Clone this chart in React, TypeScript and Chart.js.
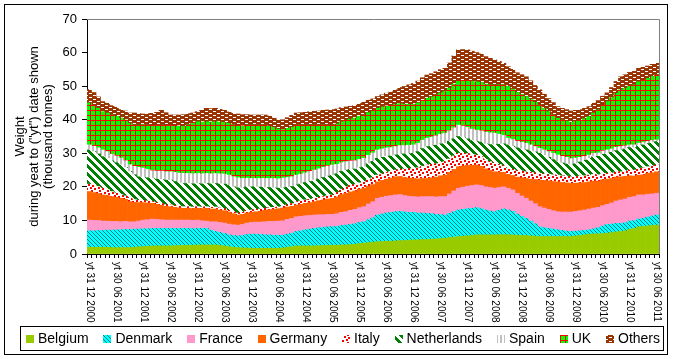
import React, { useEffect, useRef } from 'react';
import { Chart, registerables } from 'chart.js';

Chart.register(...registerables);

// Tick labels (one every 6 months, first bar = Dec 2000, last = Jun 2011)
const tickLabels = [
  'yt 31 12 2000', 'yt 30 06 2001', 'yt 31 12 2001', 'yt 30 06 2002', 'yt 31 12 2002',
  'yt 30 06 2003', 'yt 31 12 2003', 'yt 30 06 2004', 'yt 31 12 2004', 'yt 30 06 2005',
  'yt 31 12 2005', 'yt 30 06 2006', 'yt 31 12 2006', 'yt 30 06 2007', 'yt 31 12 2007',
  'yt 30 06 2008', 'yt 31 12 2008', 'yt 30 06 2009', 'yt 31 12 2009', 'yt 30 06 2010',
  'yt 31 12 2010', 'yt 30 06 2011',
];
const MONTHS_PER_TICK = 6;

const seriesNames = ['Belgium', 'Denmark', 'France', 'Germany', 'Italy', 'Netherlands', 'Spain', 'UK', 'Others'];

const belgium = [
  2.0, 2.0, 2.0, 2.0, 2.0, 1.9, 1.9, 1.9, 1.9, 1.9, 2.0, 2.1,
  2.2, 2.3, 2.4, 2.4, 2.4, 2.4, 2.4, 2.5, 2.5, 2.6, 2.6, 2.6,
  2.7, 2.7, 2.7, 2.7, 2.7, 2.6, 2.4, 2.2, 2.0, 1.9, 1.8, 1.8,
  1.7, 1.7, 1.7, 1.7, 1.7, 1.7, 1.7, 1.8, 2.0, 2.2, 2.4, 2.4,
  2.4, 2.4, 2.4, 2.5, 2.5, 2.6, 2.6, 2.6, 2.7, 2.7, 2.8, 2.9,
  3.1, 3.2, 3.4, 3.5, 3.7, 3.7, 3.8, 3.8, 3.9, 4.0, 4.0, 4.1,
  4.2, 4.2, 4.3, 4.3, 4.4, 4.5, 4.6, 4.7, 4.9, 5.0, 5.2, 5.3,
  5.4, 5.5, 5.7, 5.7, 5.7, 5.7, 5.7, 5.7, 5.8, 5.7, 5.7, 5.6,
  5.5, 5.5, 5.4, 5.3, 5.2, 5.2, 5.2, 5.2, 5.2, 5.2, 5.2, 5.2,
  5.4, 5.5, 5.7, 5.9, 6.0, 6.0, 6.1, 6.2, 6.4, 6.6, 6.7, 6.9,
  7.4, 7.6, 8.1, 8.2, 8.4, 8.5, 8.6,
];
const denmark = [
  4.9, 4.9, 5.0, 5.0, 5.1, 5.2, 5.3, 5.3, 5.4, 5.4, 5.4, 5.3,
  5.3, 5.2, 5.2, 5.2, 5.2, 5.2, 5.2, 5.1, 5.1, 5.0, 5.0, 4.9,
  4.9, 4.9, 4.9, 4.4, 4.0, 3.8, 3.7, 3.5, 3.5, 3.5, 3.7, 4.0,
  4.2, 4.2, 4.1, 4.0, 4.0, 3.9, 3.9, 3.8, 3.9, 4.0, 4.3, 4.5,
  4.8, 5.0, 5.2, 5.3, 5.4, 5.5, 5.5, 5.6, 5.8, 5.9, 6.0, 6.1,
  6.3, 6.4, 6.8, 7.3, 7.9, 8.2, 8.4, 8.6, 8.7, 8.7, 8.5, 8.3,
  8.2, 8.0, 7.9, 7.8, 7.6, 7.3, 7.1, 6.9, 7.2, 7.6, 7.9, 8.0,
  8.1, 8.1, 8.1, 7.8, 7.4, 7.1, 6.9, 7.3, 7.6, 7.4, 7.0, 6.3,
  5.7, 5.1, 4.4, 3.7, 2.9, 2.6, 2.4, 2.2, 2.0, 1.8, 1.6, 1.5,
  1.4, 1.4, 1.3, 1.3, 1.5, 1.8, 2.2, 2.6, 2.5, 2.5, 2.4, 2.4,
  2.4, 2.3, 2.3, 2.4, 2.6, 2.8, 3.0,
];
const france = [
  3.2, 3.1, 3.0, 2.8, 2.7, 2.6, 2.5, 2.4, 2.4, 2.3, 2.2, 2.4,
  2.6, 2.7, 2.8, 2.7, 2.6, 2.5, 2.5, 2.5, 2.5, 2.5, 2.5, 2.5,
  2.5, 2.3, 2.2, 2.5, 2.9, 3.0, 3.1, 3.2, 3.2, 3.2, 3.3, 3.4,
  3.5, 3.6, 3.7, 3.9, 4.0, 4.1, 4.2, 4.3, 4.4, 4.4, 4.4, 4.3,
  4.2, 4.1, 4.0, 3.9, 3.8, 3.7, 3.7, 3.8, 3.9, 4.0, 4.2, 4.3,
  4.4, 4.5, 4.7, 4.8, 5.0, 5.0, 5.0, 5.0, 5.0, 5.0, 4.9, 4.8,
  4.7, 4.8, 4.9, 5.0, 5.1, 5.2, 5.4, 5.5, 5.8, 6.2, 6.5, 6.6,
  6.7, 6.8, 6.8, 6.9, 6.9, 7.0, 7.0, 6.8, 6.6, 6.5, 6.4, 6.2,
  6.1, 6.0, 6.0, 6.0, 6.0, 5.9, 5.7, 5.5, 5.4, 5.5, 5.7, 5.8,
  5.9, 6.0, 6.1, 6.2, 6.2, 6.1, 6.1, 6.0, 6.3, 6.7, 7.0, 7.1,
  7.1, 7.2, 7.2, 7.0, 6.8, 6.6, 6.5,
];
const germany = [
  8.5, 8.3, 8.0, 7.8, 7.6, 7.4, 7.2, 7.0, 6.6, 6.0, 5.8, 5.5,
  5.2, 5.0, 4.7, 4.5, 4.3, 4.1, 4.0, 3.8, 3.6, 3.5, 3.5, 3.5,
  3.5, 3.6, 3.8, 3.8, 3.8, 3.7, 3.7, 3.6, 3.3, 3.0, 3.0, 3.0,
  3.0, 3.1, 3.2, 3.4, 3.5, 3.6, 3.7, 3.8, 3.7, 3.6, 3.5, 3.6,
  3.7, 3.8, 4.0, 4.2, 4.4, 4.6, 4.8, 5.0, 5.3, 5.5, 5.5, 5.5,
  5.5, 5.5, 5.3, 5.1, 4.9, 5.0, 5.1, 5.2, 5.4, 5.4, 5.4, 5.4,
  5.4, 5.4, 5.4, 5.4, 5.6, 5.9, 6.2, 6.4, 6.4, 6.4, 6.4, 6.3,
  6.2, 6.0, 5.9, 5.7, 5.4, 5.1, 4.9, 4.6, 4.3, 4.1, 4.3, 4.8,
  5.4, 5.9, 6.5, 7.2, 7.9, 8.2, 8.5, 8.7, 8.9, 8.8, 8.7, 8.5,
  8.4, 8.3, 8.2, 8.1, 8.0, 7.8, 7.7, 7.5, 7.3, 7.1, 6.9, 6.7,
  6.4, 6.1, 5.9, 6.0, 6.2, 6.3, 6.4,
];
const italy = [
  2.2, 2.2, 2.1, 2.0, 1.8, 1.5, 1.3, 1.1, 1.0, 1.0, 0.8, 0.7,
  0.6, 0.6, 0.5, 0.5, 0.5, 0.5, 0.5, 0.5, 0.5, 0.5, 0.5, 0.5,
  0.5, 0.5, 0.5, 0.5, 0.6, 0.6, 0.6, 0.5, 0.5, 0.6, 0.6, 0.7,
  0.7, 0.7, 0.7, 0.6, 0.6, 0.6, 0.5, 0.5, 0.6, 0.8, 1.0, 1.0,
  1.0, 1.0, 1.0, 1.0, 1.0, 1.0, 1.0, 1.3, 1.6, 1.9, 1.9, 1.9,
  1.9, 1.9, 2.0, 2.0, 2.0, 2.0, 2.0, 2.0, 2.0, 2.2, 2.5, 2.8,
  3.0, 3.3, 3.7, 4.0, 4.0, 4.0, 4.0, 4.0, 4.0, 4.0, 4.0, 3.8,
  3.5, 3.2, 3.0, 2.9, 2.7, 2.6, 2.5, 2.3, 2.0, 1.8, 1.8, 1.9,
  2.0, 2.0, 2.0, 2.0, 2.0, 2.0, 2.0, 2.0, 2.0, 2.0, 2.0, 2.0,
  2.0, 2.0, 2.0, 2.0, 2.0, 1.9, 1.8, 1.7, 1.6, 1.5, 1.5, 1.6,
  1.7, 1.8, 2.0, 2.0, 2.0, 2.0, 2.0,
];
const netherlands = [
  10.2, 10.0, 9.7, 9.4, 9.3, 9.1, 9.0, 8.9, 8.5, 8.0, 7.4, 7.0,
  6.9, 6.9, 6.9, 7.0, 7.2, 7.3, 7.4, 7.2, 7.0, 6.9, 6.9, 6.9,
  6.9, 6.9, 6.9, 7.0, 7.0, 7.2, 7.3, 7.5, 7.5, 7.5, 7.3, 7.1,
  6.9, 6.7, 6.5, 6.2, 6.0, 5.8, 5.6, 5.5, 5.3, 5.1, 5.0, 5.1,
  5.2, 5.3, 5.4, 5.5, 5.7, 5.8, 5.9, 5.6, 5.3, 5.0, 4.8, 4.6,
  4.5, 4.5, 4.7, 4.9, 5.0, 4.9, 4.8, 4.6, 4.5, 4.5, 4.5, 4.5,
  4.5, 4.8, 5.2, 5.5, 5.5, 5.5, 5.5, 5.5, 5.3, 5.1, 5.0, 4.7,
  4.4, 4.2, 4.0, 4.3, 4.7, 5.1, 5.5, 6.0, 6.5, 7.0, 6.9, 6.8,
  6.6, 6.5, 6.4, 6.2, 6.0, 5.5, 5.0, 4.5, 4.0, 3.8, 3.6, 3.5,
  3.8, 4.2, 4.6, 5.0, 5.3, 5.5, 5.8, 6.0, 6.2, 6.4, 6.5, 6.6,
  6.7, 6.7, 6.8, 6.9, 6.9, 7.0, 7.0,
];
const spain = [
  1.5, 1.6, 1.8, 2.0, 2.0, 2.0, 2.0, 2.0, 2.0, 2.0, 2.5, 2.8,
  2.8, 2.5, 2.3, 2.4, 2.5, 2.5, 2.5, 2.7, 2.9, 3.0, 3.0, 3.0,
  3.0, 3.0, 3.0, 3.0, 3.0, 3.0, 3.0, 3.0, 3.0, 3.0, 2.8, 2.6,
  2.5, 2.5, 2.6, 2.7, 2.7, 2.8, 2.8, 2.9, 2.9, 2.9, 2.9, 2.9,
  2.9, 3.0, 3.0, 3.0, 3.0, 3.0, 3.0, 2.8, 2.6, 2.5, 2.5, 2.5,
  2.5, 2.5, 2.5, 2.5, 2.5, 2.5, 2.5, 2.5, 2.5, 2.5, 2.5, 2.5,
  2.5, 2.5, 2.5, 2.5, 2.6, 2.8, 2.9, 3.0, 3.1, 3.3, 3.4, 3.4,
  3.4, 3.4, 3.4, 3.4, 3.5, 3.5, 3.5, 3.0, 2.5, 2.0, 2.0, 2.0,
  2.0, 2.0, 1.8, 1.6, 1.5, 1.6, 1.7, 1.9, 2.0, 2.0, 2.0, 1.9,
  1.7, 1.4, 1.2, 1.0, 1.0, 1.0, 1.0, 1.0, 1.0, 1.0, 1.0, 0.9,
  0.8, 0.8, 0.7, 0.7, 0.6, 0.6, 0.5,
];
const uk = [
  12.5, 12.2, 11.8, 11.4, 11.5, 11.7, 11.8, 11.9, 12.1, 12.4, 12.3, 12.6,
  12.9, 13.2, 13.5, 13.6, 13.7, 13.8, 13.8, 13.9, 14.0, 14.0, 14.5, 15.0,
  15.4, 15.4, 15.4, 15.4, 15.4, 15.4, 15.4, 15.4, 15.5, 15.5, 15.7, 15.8,
  15.9, 15.9, 15.9, 15.9, 15.6, 15.2, 14.8, 14.5, 14.6, 14.8, 14.9, 14.6,
  14.2, 13.8, 13.4, 13.0, 12.6, 12.2, 11.9, 12.0, 12.2, 12.4, 12.5, 12.7,
  12.8, 12.9, 12.7, 12.5, 12.4, 12.5, 12.5, 12.6, 12.6, 12.5, 12.3, 12.2,
  12.1, 12.0, 11.9, 11.9, 12.0, 12.2, 12.3, 12.4, 12.7, 13.0, 13.2, 13.6,
  14.0, 14.2, 14.4, 14.4, 14.3, 14.3, 14.3, 14.7, 15.1, 15.4, 15.0, 14.5,
  14.2, 13.9, 13.6, 13.2, 12.9, 12.4, 11.9, 11.4, 10.9, 10.8, 10.8, 10.8,
  10.9, 11.0, 11.2, 11.4, 12.0, 12.8, 13.6, 14.4, 15.3, 16.1, 16.9, 17.2,
  17.6, 17.9, 18.3, 18.5, 18.8, 19.1, 19.3,
];
const others = [
  4.0, 3.8, 3.4, 3.0, 2.9, 2.8, 2.7, 2.5, 2.7, 3.0, 3.6, 3.4,
  3.2, 3.4, 3.6, 3.9, 4.4, 3.8, 3.1, 3.2, 3.3, 3.5, 3.3, 3.1,
  3.0, 3.5, 4.0, 4.0, 4.0, 3.8, 3.6, 3.4, 3.4, 3.5, 3.3, 3.1,
  3.0, 3.0, 3.0, 3.0, 3.0, 2.8, 2.7, 2.9, 3.2, 3.5, 3.6, 3.7,
  3.8, 4.0, 4.1, 4.2, 4.4, 4.5, 4.6, 4.5, 4.2, 3.9, 3.8, 3.8,
  3.8, 3.8, 3.7, 3.6, 3.5, 3.6, 3.8, 4.0, 4.3, 4.8, 5.3, 5.8,
  6.2, 6.5, 6.7, 6.9, 6.9, 6.9, 6.9, 6.9, 7.5, 8.4, 9.2, 9.2,
  9.1, 9.0, 8.7, 8.5, 8.2, 7.9, 7.5, 7.0, 6.4, 5.9, 5.9, 5.9,
  5.9, 5.9, 5.5, 5.0, 4.5, 4.2, 3.9, 3.7, 3.5, 3.5, 3.4, 3.4,
  3.3, 3.2, 3.1, 3.0, 2.9, 2.8, 2.7, 2.6, 3.0, 3.5, 3.9, 4.0,
  4.0, 4.0, 4.0, 3.9, 3.7, 3.6, 3.5,
];

const seriesValues = [belgium, denmark, france, germany, italy, netherlands, spain, uk, others];

const yAxisTitle = ['Weight', 'during yeat to ("yt") date shown', '(thousand tonnes)'];

const FONT = '"Liberation Sans", Arial, sans-serif';
const W = 673;
const H = 359;

function makePattern(w: number, h: number, bg: string, fg: string, fn: (x: number, y: number) => boolean) {
  const c = document.createElement('canvas');
  c.width = w;
  c.height = h;
  const g = c.getContext('2d')!;
  g.fillStyle = bg;
  g.fillRect(0, 0, w, h);
  g.fillStyle = fg;
  for (let y = 0; y < h; y++) {
    for (let x = 0; x < w; x++) {
      if (fn(x, y)) g.fillRect(x, y, 1, 1);
    }
  }
  return g.createPattern(c, 'repeat')!;
}

function buildFills(): (string | CanvasPattern)[] {
  const mod = (a: number, n: number) => ((a % n) + n) % n;
  const confetti: [number, number][] = [[0, 0], [4, 1], [2, 3], [6, 4], [3, 6]];
  return [
    '#99CC00',
    makePattern(4, 4, '#00FFFF', '#008080', (x, y) => mod(x - y, 4) === 0),
    '#FF99CC',
    '#FF6600',
    makePattern(8, 8, '#FFFFFF', '#FF0000', (x, y) =>
      confetti.some(([cx, cy]) => (x === cx || x === cx + 1) && (y === cy || y === cy + 1))),
    makePattern(8, 8, '#FFFFFF', '#008000', (x, y) => mod(x - y, 8) < 4),
    makePattern(4, 4, '#FFFFFF', '#C0C0C0', (x) => x % 4 < 2),
    makePattern(5, 5, '#00FF00', '#FF0000', (x, y) => x === 0 || y === 0),
    makePattern(8, 4, '#993300', '#FFFFFF', (x, y) => (y === 1 && x >= 1 && x <= 3) || (y === 3 && x >= 5 && x <= 7)),
  ];
}

const decorPlugin = {
  id: 'decor',
  beforeDraw(chart: any) {
    const ctx = chart.ctx;
    ctx.save();
    ctx.fillStyle = '#FFFFFF';
    ctx.fillRect(0, 0, chart.width, chart.height);
    ctx.restore();
  },
  afterDraw(chart: any) {
    const ctx = chart.ctx;
    const area = chart.chartArea;
    ctx.save();
    // plot area frame (top + right, grey)
    ctx.strokeStyle = '#808080';
    ctx.lineWidth = 1;
    ctx.beginPath();
    ctx.moveTo(Math.round(area.left), Math.round(area.top) + 0.5);
    ctx.lineTo(Math.round(area.right) + 0.5, Math.round(area.top) + 0.5);
    ctx.lineTo(Math.round(area.right) + 0.5, Math.round(area.bottom));
    ctx.stroke();

    // x tick labels, rotated clockwise
    const xs = chart.scales.x;
    ctx.font = `10px ${FONT}`;
    ctx.fillStyle = '#000000';
    ctx.textAlign = 'left';
    ctx.textBaseline = 'middle';
    tickLabels.forEach((lab, k) => {
      const x = xs.getPixelForValue(k * MONTHS_PER_TICK);
      ctx.save();
      ctx.translate(x, area.bottom + 8);
      ctx.rotate(Math.PI / 2);
      ctx.fillText(lab, 0, 0);
      ctx.restore();
    });

    // legend
    ctx.font = `14px ${FONT}`;
    const box = 8;
    const gapText = 4;
    const startX = 26;
    const endX = 660;
    const cy = 339;
    const items = chart.data.datasets.map((ds: any) => ({
      label: ds.label,
      fill: ds.backgroundColor,
      w: ctx.measureText(ds.label).width,
    }));
    const total = items.reduce((s: number, it: any) => s + box + gapText + it.w, 0);
    const gap = (endX - startX - total) / (items.length - 1);
    let x = startX;
    for (const it of items) {
      ctx.fillStyle = it.fill;
      ctx.fillRect(Math.round(x), cy - box / 2, box, box);
      ctx.fillStyle = '#000000';
      ctx.textBaseline = 'middle';
      ctx.fillText(it.label, x + box + gapText, cy + 0.5);
      x += box + gapText + it.w + gap;
    }
    ctx.strokeStyle = '#000000';
    ctx.lineWidth = 1;
    ctx.strokeRect(20.5, 326.5, 643, 24);

    // outer chart border
    ctx.lineWidth = 1;
    ctx.strokeRect(4.5, 4.5, 663, 350);
    ctx.restore();
  },
};

export default function App() {
  const ref = useRef<HTMLCanvasElement | null>(null);

  useEffect(() => {
    if (!ref.current) return;
    const fills = buildFills();
    const monthLabels = belgium.map((_, i) =>
      i % MONTHS_PER_TICK === 0 ? tickLabels[i / MONTHS_PER_TICK] : '');
    const chart = new Chart(ref.current, {
      type: 'bar',
      data: {
        labels: monthLabels,
        datasets: seriesNames.map((name, i) => ({
          label: name,
          data: seriesValues[i],
          backgroundColor: fills[i],
          borderWidth: 0,
          barPercentage: 1,
          categoryPercentage: 1,
        })),
      },
      options: {
        animation: false,
        responsive: false,
        devicePixelRatio: 1,
        layout: { padding: { left: 9, top: 19, right: 14, bottom: 45 } },
        plugins: {
          legend: { display: false },
          tooltip: { enabled: false },
          title: { display: false },
        },
        scales: {
          x: {
            stacked: true,
            offset: true,
            grid: {
              display: true,
              drawOnChartArea: false,
              drawTicks: true,
              tickLength: 4,
              color: '#000000',
              offset: true,
            },
            border: { display: true, color: '#000000', width: 1 },
            ticks: { display: false, autoSkip: false },
            afterFit: (s: any) => { s.height = 60; },
          },
          y: {
            stacked: true,
            min: 0,
            max: 70,
            ticks: {
              stepSize: 10,
              color: '#000000',
              padding: 5,
              font: { family: FONT, size: 13 },
            },
            grid: {
              drawOnChartArea: false,
              drawTicks: true,
              tickLength: 5,
              color: '#000000',
            },
            border: { display: true, color: '#000000', width: 1 },
            title: {
              display: true,
              text: yAxisTitle,
              color: '#000000',
              font: { family: FONT, size: 13, lineHeight: 1.1 },
              padding: { top: 4, bottom: 4 },
            },
            afterFit: (s: any) => { s.width = 78; },
          },
        },
      },
      plugins: [decorPlugin],
    } as any);
    return () => chart.destroy();
  }, []);

  return (
    <div style={{ position: 'absolute', left: 0, top: 0, width: W, height: H, background: '#FFFFFF' }}>
      <canvas ref={ref} width={W} height={H} style={{ display: 'block', width: W, height: H }} />
    </div>
  );
}
